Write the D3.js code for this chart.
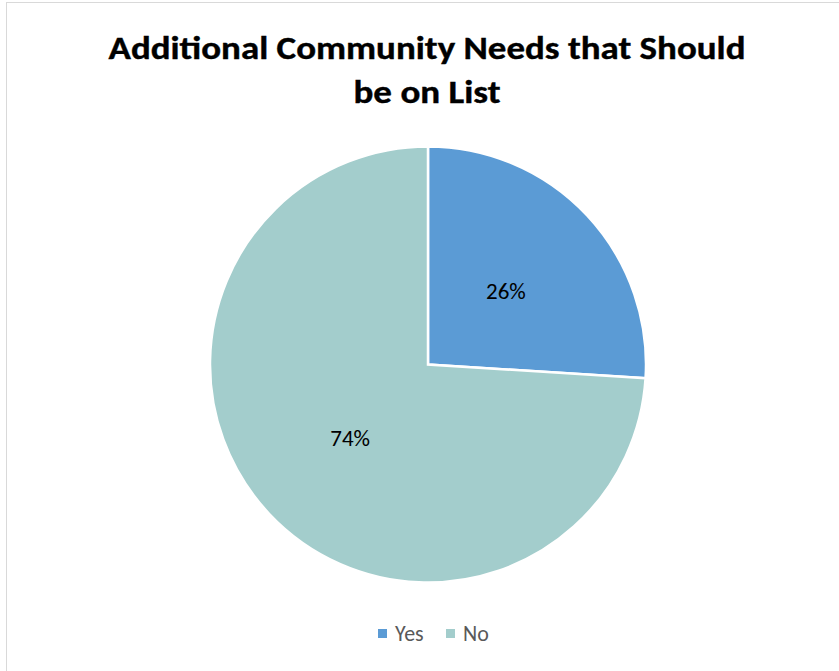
<!DOCTYPE html>
<html><head><meta charset="utf-8">
<script src="https://cdn.jsdelivr.net/npm/d3@7"></script>
<style>body{margin:0;background:#fff}svg{display:block}</style>
</head><body>
<script>
const categories = ["Yes", "No"];
const values = [26, 74];
const colors = ["#5B9BD5", "#A3CDCC"];
const titleLines = ["Additional Community Needs that Should", "be on List"];

const W = 839, H = 671;
const svg = d3.select("body").append("svg").attr("width", W).attr("height", H);
svg.append("rect").attr("x", 6.5).attr("y", 2.5).attr("width", 840).attr("height", 680)
  .attr("fill", "#fff").attr("stroke", "#D9D9D9").attr("stroke-width", 1);

const font = "Carlito, 'Open Sans', 'Noto Sans', sans-serif";
const tW = [637, 147];
titleLines.forEach((t, i) => {
  const el = svg.append("text").attr("x", 427).attr("y", 59 + i * 44)
    .attr("text-anchor", "middle").attr("font-family", font).attr("font-weight", "bold")
    .attr("font-size", 33).attr("fill", "#000").attr("stroke", "#000").attr("stroke-width", 0.4).text(t);
  el.attr("textLength", tW[i]).attr("lengthAdjust", "spacingAndGlyphs");
});

const cx = 428, cy = 364.5, r = 218;
const pie = d3.pie().sort(null).value(d => d)(values);
const arc = d3.arc().innerRadius(0).outerRadius(r);
const g = svg.append("g").attr("transform", `translate(${cx},${cy})`);
g.selectAll("path").data(pie).join("path").attr("d", arc)
  .attr("fill", (d, i) => colors[i]).attr("stroke", "#fff").attr("stroke-width", 2.5);

const labelArc = d3.arc().innerRadius(r * 0.49).outerRadius(r * 0.49);
g.selectAll("text.lbl").data(pie).join("text").attr("class", "lbl")
  .attr("transform", d => { const c = labelArc.centroid(d); return `translate(${c[0]},${c[1]})`; })
  .attr("text-anchor", "middle").attr("dy", "0.35em")
  .attr("font-family", font).attr("font-size", 23).attr("fill", "#000")
  .text(d => Math.round(d.data) + "%");

const leg = svg.append("g");
const legX = [378, 446];
categories.forEach((c, i) => {
  leg.append("rect").attr("x", legX[i]).attr("y", 629).attr("width", 9).attr("height", 9).attr("fill", colors[i]);
  leg.append("text").attr("x", legX[i] + 17).attr("y", 641).attr("font-family", font)
    .attr("font-size", 22).attr("fill", "#595959").text(c);
});
</script>
</body></html>
